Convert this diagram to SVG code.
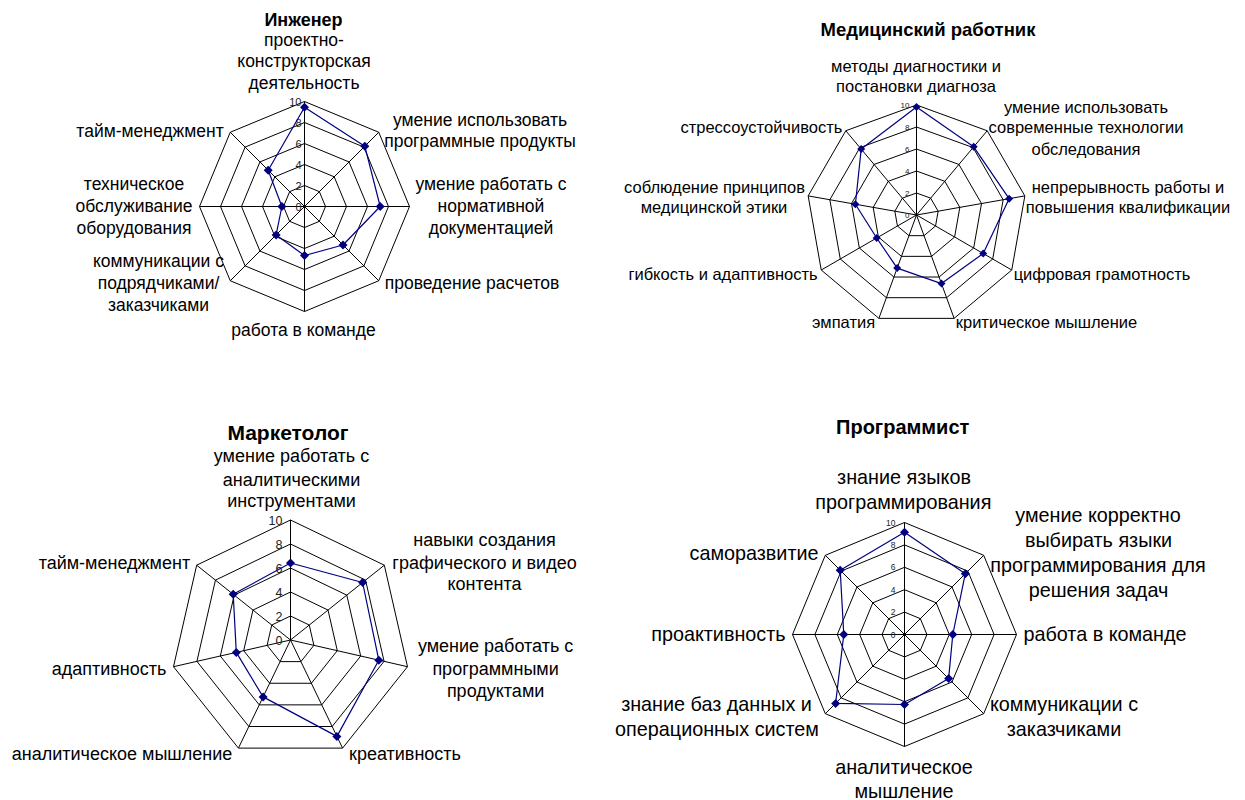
<svg xmlns="http://www.w3.org/2000/svg" width="1245" height="800" viewBox="0 0 1245 800">
  <defs>
    <style>
      .grid { fill: none; stroke: #000; stroke-width: 1; }
      .series { fill: none; stroke: #000080; stroke-width: 1.2; stroke-linejoin: round; }
      .lbl { font-family: "Liberation Sans", Arial, sans-serif; fill: #000; text-anchor: middle; }
      .ttl { font-family: "Liberation Sans", Arial, sans-serif; font-weight: bold; fill: #000; text-anchor: middle; }
      .tick { font-family: "Liberation Sans", Arial, sans-serif; fill: #222; text-anchor: end; }
      .m1 { marker-start: url(#dia); marker-mid: url(#dia); }
      .m2 { marker-start: url(#diaS); marker-mid: url(#diaS); }
    </style>
    <!-- diamond data markers -->
    <marker id="dia" markerUnits="userSpaceOnUse" viewBox="-4.5 -4.5 9 9" markerWidth="9" markerHeight="9" refX="0" refY="0" overflow="visible">
      <path d="M0,-4.5 L4.5,0 L0,4.5 L-4.5,0 Z" fill="#000080"/>
    </marker>
    <marker id="diaS" markerUnits="userSpaceOnUse" viewBox="-4 -4 8 8" markerWidth="8" markerHeight="8" refX="0" refY="0" overflow="visible">
      <path d="M0,-4 L4,0 L0,4 L-4,0 Z" fill="#000080"/>
    </marker>
  </defs>

  <rect width="1245" height="800" fill="#fff"/>

  <!-- Инженер: 8 axes, scale 0..10 -->
  <g id="chart-engineer">
    <text class="ttl" x="303.5" y="26" font-size="18">Инженер</text>
    <g class="lbl" font-size="17.5">
      <text x="304" y="45.5">проектно-</text>
      <text x="304" y="67">конструкторская</text>
      <text x="304" y="89">деятельность</text>
      <text x="480" y="125.5">умение использовать</text>
      <text x="480" y="147">программные продукты</text>
      <text x="491" y="190">умение работать с</text>
      <text x="491" y="212">нормативной</text>
      <text x="491" y="234">документацией</text>
      <text x="472" y="289">проведение расчетов</text>
      <text x="303.5" y="335.5">работа в команде</text>
      <text x="158.5" y="267">коммуникации с</text>
      <text x="158.5" y="289">подрядчиками/</text>
      <text x="158.5" y="310.5">заказчиками</text>
      <text x="134" y="190">техническое</text>
      <text x="134" y="212">обслуживание</text>
      <text x="134" y="234">оборудования</text>
      <text x="150" y="136.5">тайм-менеджмент</text>
    </g>
    <g transform="translate(304.5,206.5)">
      <polygon class="grid" points="0,-21 14.85,-14.85 21,0 14.85,14.85 0,21 -14.85,14.85 -21,0 -14.85,-14.85"/>
      <polygon class="grid" points="0,-42 29.7,-29.7 42,0 29.7,29.7 0,42 -29.7,29.7 -42,0 -29.7,-29.7"/>
      <polygon class="grid" points="0,-63 44.55,-44.55 63,0 44.55,44.55 0,63 -44.55,44.55 -63,0 -44.55,-44.55"/>
      <polygon class="grid" points="0,-84 59.4,-59.4 84,0 59.4,59.4 0,84 -59.4,59.4 -84,0 -59.4,-59.4"/>
      <polygon class="grid" points="0,-105 74.25,-74.25 105,0 74.25,74.25 0,105 -74.25,74.25 -105,0 -74.25,-74.25"/>
      <path class="grid" d="M0,0V-105M0,0L74.25,-74.25M0,0H105M0,0L74.25,74.25M0,0V105M0,0L-74.25,74.25M0,0H-105M0,0L-74.25,-74.25"/>
      <g class="tick" font-size="11">
        <text x="-3" y="4">0</text>
        <text x="-3" y="-17">2</text>
        <text x="-3" y="-38">4</text>
        <text x="-3" y="-59">6</text>
        <text x="-3" y="-80">8</text>
        <text x="-3" y="-101">10</text>
      </g>
      <polygon class="series m1" points="0,-99.3 60.3,-60.3 75.7,0 38.5,38.5 0,49 -28.4,28.4 -22.6,0 -36.3,-36.3"/>
    </g>
  </g>

  <!-- Медицинский работник: 9 axes, scale 0..10 -->
  <g id="chart-medic">
    <text class="ttl" x="928" y="35.5" font-size="18.5">Медицинский работник</text>
    <g class="lbl" font-size="16.5">
      <text x="916" y="71.7">методы диагностики и</text>
      <text x="916" y="92.3">постановки диагноза</text>
      <text x="1086" y="113.3">умение использовать</text>
      <text x="1086" y="133.3">современные технологии</text>
      <text x="1086" y="155">обследования</text>
      <text x="1128" y="192.7">непрерывность работы и</text>
      <text x="1128" y="212.7">повышения квалификации</text>
      <text x="1102" y="280">цифровая грамотность</text>
      <text x="1046.5" y="328.3">критическое мышление</text>
      <text x="843.5" y="328.3">эмпатия</text>
      <text x="723" y="280">гибкость и адаптивность</text>
      <text x="714.5" y="192.7">соблюдение принципов</text>
      <text x="714" y="212.7">медицинской этики</text>
      <text x="761.4" y="133.3">стрессоустойчивость</text>
    </g>
    <g transform="translate(916.5,215)">
      <polygon class="grid" points="0,-22 14.14,-16.85 21.67,-3.82 19.05,11 7.52,20.67 -7.52,20.67 -19.05,11 -21.67,-3.82 -14.14,-16.85"/>
      <polygon class="grid" points="0,-44 28.28,-33.7 43.33,-7.64 38.1,22 15.05,41.35 -15.05,41.35 -38.1,22 -43.33,-7.64 -28.28,-33.7"/>
      <polygon class="grid" points="0,-66 42.42,-50.56 65,-11.46 57.16,33 22.57,62.02 -22.57,62.02 -57.16,33 -65,-11.46 -42.42,-50.56"/>
      <polygon class="grid" points="0,-88 56.57,-67.41 86.66,-15.28 76.21,44 30.1,82.69 -30.1,82.69 -76.21,44 -86.66,-15.28 -56.57,-67.41"/>
      <polygon class="grid" points="0,-110 70.71,-84.26 108.33,-19.1 95.26,55 37.62,103.37 -37.62,103.37 -95.26,55 -108.33,-19.1 -70.71,-84.26"/>
      <path class="grid" d="M0,0V-110M0,0L70.71,-84.26M0,0L108.33,-19.1M0,0L95.26,55M0,0L37.62,103.37M0,0L-37.62,103.37M0,0L-95.26,55M0,0L-108.33,-19.1M0,0L-70.71,-84.26"/>
      <g class="tick" font-size="8">
        <text x="-7" y="3">0</text>
        <text x="-7" y="-19">2</text>
        <text x="-7" y="-41">4</text>
        <text x="-7" y="-63">6</text>
        <text x="-7" y="-85">8</text>
        <text x="-7" y="-107">10</text>
      </g>
      <polygon class="series m2" points="0,-108 57.2,-68.2 92.6,-16.3 66.7,38.5 25,68.6 -19.3,53.1 -39.8,23 -61.1,-10.8 -55.3,-65.9"/>
    </g>
  </g>

  <!-- Маркетолог: 7 axes, scale 0..10 -->
  <g id="chart-marketer">
    <text class="ttl" x="288" y="440" font-size="21">Маркетолог</text>
    <g class="lbl" font-size="18">
      <text x="291.5" y="462">умение работать с</text>
      <text x="291.5" y="485.5">аналитическими</text>
      <text x="291.5" y="506.5">инструментами</text>
      <text x="484.5" y="545.5">навыки создания</text>
      <text x="484.5" y="569">графического и видео</text>
      <text x="484.5" y="590">контента</text>
      <text x="495.6" y="652">умение работать с</text>
      <text x="495.6" y="675">программными</text>
      <text x="495.6" y="697">продуктами</text>
      <text x="405" y="760">креативность</text>
      <text x="122" y="760">аналитическое мышление</text>
      <text x="109" y="675">адаптивность</text>
      <text x="114.4" y="569">тайм-менеджмент</text>
    </g>
    <g transform="translate(290.5,640)">
      <polygon class="grid" points="0,-24 18.76,-14.96 23.4,5.34 10.41,21.62 -10.41,21.62 -23.4,5.34 -18.76,-14.96"/>
      <polygon class="grid" points="0,-48 37.53,-29.93 46.8,10.68 20.83,43.25 -20.83,43.25 -46.8,10.68 -37.53,-29.93"/>
      <polygon class="grid" points="0,-72 56.29,-44.89 70.19,16.02 31.24,64.87 -31.24,64.87 -70.19,16.02 -56.29,-44.89"/>
      <polygon class="grid" points="0,-96 75.05,-59.86 93.59,21.36 41.65,86.5 -41.65,86.5 -93.59,21.36 -75.05,-59.86"/>
      <polygon class="grid" points="0,-120 93.82,-74.82 116.99,26.7 52.07,108.12 -52.07,108.12 -116.99,26.7 -93.82,-74.82"/>
      <path class="grid" d="M0,0V-120M0,0L93.82,-74.82M0,0L116.99,26.7M0,0L52.07,108.12M0,0L-52.07,108.12M0,0L-116.99,26.7M0,0L-93.82,-74.82"/>
      <g class="tick" font-size="12.5">
        <text x="-8" y="5">0</text>
        <text x="-8" y="-19">2</text>
        <text x="-8" y="-43">4</text>
        <text x="-8" y="-67">6</text>
        <text x="-8" y="-91">8</text>
        <text x="-8" y="-115">10</text>
      </g>
      <polygon class="series m1" points="0,-77 72.1,-57.5 88.3,20.2 46.4,96.4 -27.4,56.9 -54.2,12.4 -57.3,-45.7"/>
    </g>
  </g>

  <!-- Программист: 8 axes, scale 0..10 -->
  <g id="chart-programmer">
    <text class="ttl" x="902.7" y="433.5" font-size="20">Программист</text>
    <g class="lbl" font-size="19.8">
      <text x="904" y="484.3">знание языков</text>
      <text x="903.3" y="508.7">программирования</text>
      <text x="1098" y="522">умение корректно</text>
      <text x="1098.5" y="546.7">выбирать языки</text>
      <text x="1098" y="572">программирования для</text>
      <text x="1098.5" y="596.7">решения задач</text>
      <text x="1105" y="641">работа в команде</text>
      <text x="1064" y="711">коммуникации с</text>
      <text x="1064" y="736">заказчиками</text>
      <text x="904" y="774.3">аналитическое</text>
      <text x="904" y="797.7">мышление</text>
      <text x="716.5" y="711">знание баз данных и</text>
      <text x="717" y="736">операционных систем</text>
      <text x="718.4" y="641">проактивность</text>
      <text x="754" y="560">саморазвитие</text>
    </g>
    <g transform="translate(904.5,634.5)">
      <polygon class="grid" points="0,-22.4 15.84,-15.84 22.4,0 15.84,15.84 0,22.4 -15.84,15.84 -22.4,0 -15.84,-15.84"/>
      <polygon class="grid" points="0,-44.8 31.68,-31.68 44.8,0 31.68,31.68 0,44.8 -31.68,31.68 -44.8,0 -31.68,-31.68"/>
      <polygon class="grid" points="0,-67.2 47.52,-47.52 67.2,0 47.52,47.52 0,67.2 -47.52,47.52 -67.2,0 -47.52,-47.52"/>
      <polygon class="grid" points="0,-89.6 63.36,-63.36 89.6,0 63.36,63.36 0,89.6 -63.36,63.36 -89.6,0 -63.36,-63.36"/>
      <polygon class="grid" points="0,-112 79.2,-79.2 112,0 79.2,79.2 0,112 -79.2,79.2 -112,0 -79.2,-79.2"/>
      <path class="grid" d="M0,0V-112M0,0L79.2,-79.2M0,0H112M0,0L79.2,79.2M0,0V112M0,0L-79.2,79.2M0,0H-112M0,0L-79.2,-79.2"/>
      <g class="tick" font-size="8.5">
        <text x="-9" y="3">0</text>
        <text x="-9" y="-19.4">2</text>
        <text x="-9" y="-41.8">4</text>
        <text x="-9" y="-64.2">6</text>
        <text x="-9" y="-86.6">8</text>
        <text x="-9" y="-109">10</text>
      </g>
      <polygon class="series m1" points="0,-102.3 60.8,-60.8 48.3,0 44.1,44.1 0,70 -68.9,68.9 -60.7,0 -64.3,-64.3"/>
    </g>
  </g>
</svg>
